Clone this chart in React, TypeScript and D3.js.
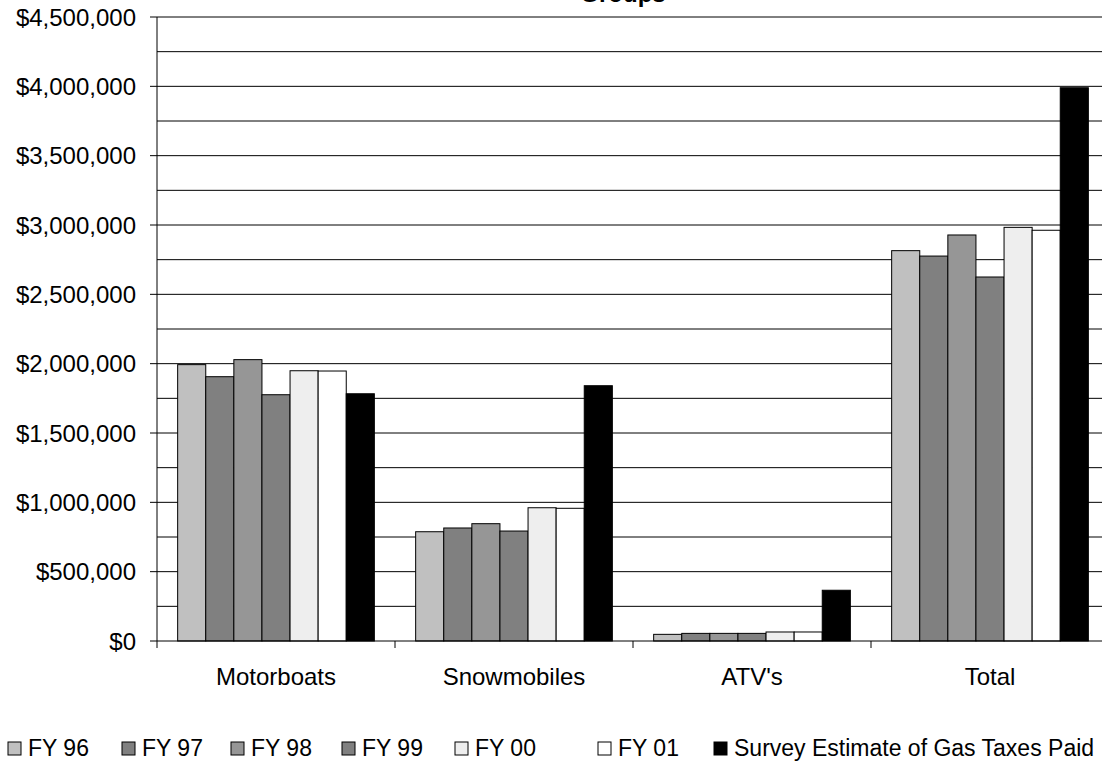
import React from "react";
import * as d3 from "d3";

// Fuel tax revenue by user group, fiscal years 96-01, plus survey estimate
const categories = ["Motorboats", "Snowmobiles", "ATV's", "Total"];
const seriesNames = ["FY 96", "FY 97", "FY 98", "FY 99", "FY 00", "FY 01", "Survey Estimate of Gas Taxes Paid"];

const fy96 = [1993000, 788000, 48000, 2815000];
const fy97 = [1906000, 815000, 55000, 2776000];
const fy98 = [2029000, 846000, 55000, 2928000];
const fy99 = [1776000, 793000, 55000, 2625000];
const fy00 = [1949000, 961000, 65000, 2983000];
const fy01 = [1947000, 957000, 65000, 2962000];
const survey = [1783000, 1841000, 366000, 3990000];

const seriesValues = [fy96, fy97, fy98, fy99, fy00, fy01, survey];
const seriesColors = ["#c0c0c0", "#808080", "#969696", "#808080", "#eeeeee", "#ffffff", "#000000"];

const yMajorTicks = [0, 500000, 1000000, 1500000, 2000000, 2500000, 3000000, 3500000, 4000000, 4500000];
const yGridTicks = d3.range(0, 4500001, 250000);

const legendX = [8, 122, 231, 342, 455, 598, 714];

const W = 1102;
const H = 764;
const left = 157;
const groupW = 238;
const top = 17;
const bottom = 641;
const FONT = "'Liberation Sans', Arial, Helvetica, sans-serif";

export default function App() {
  const x0 = d3.scaleBand<string>().domain(categories).range([left, left + groupW * categories.length]).padding(0);
  const x1 = d3.scaleBand<string>().domain(seriesNames).range([0, x0.bandwidth()]).paddingInner(0).paddingOuter(0.735);
  const y = d3.scaleLinear().domain([0, 4500000]).range([bottom, top]);
  const fmt = (v: number) => "$" + d3.format(",")(v);

  return (
    <svg width={W} height={H} style={{ position: "absolute", left: 0, top: 0, background: "#fff" }} fontFamily={FONT}>
      <text x={623} y={2} textAnchor="middle" fontSize={24} fontWeight="bold" fill="#000">Groups</text>

      {/* gridlines */}
      {yGridTicks.slice(1).map((t) => (
        <line key={"g" + t} x1={left} x2={W} y1={y(t)} y2={y(t)} stroke="#000" strokeWidth={1} />
      ))}

      {/* bars */}
      {seriesNames.map((s, si) =>
        categories.map((c, ci) => {
          const v = seriesValues[si][ci];
          const bx = (x0(c) as number) + (x1(s) as number);
          return (
            <rect
              key={s + c}
              x={bx}
              y={y(v)}
              width={x1.bandwidth()}
              height={y(0) - y(v)}
              fill={seriesColors[si]}
              stroke="#000"
              strokeWidth={1}
            />
          );
        })
      )}

      {/* y axis */}
      <line x1={left} x2={left} y1={top} y2={bottom} stroke="#000" strokeWidth={1} />
      {yMajorTicks.map((t) => (
        <g key={"t" + t}>
          <line x1={left - 7} x2={left} y1={y(t)} y2={y(t)} stroke="#000" strokeWidth={1} />
          <text x={136} y={y(t)} dy="0.36em" textAnchor="end" fontSize={24} fill="#000">{fmt(t)}</text>
        </g>
      ))}

      {/* x axis */}
      <line x1={left} x2={W} y1={bottom} y2={bottom} stroke="#000" strokeWidth={1} />
      {categories.map((c) => (
        <g key={"x" + c}>
          <line x1={x0(c) as number} x2={x0(c) as number} y1={bottom} y2={bottom + 7} stroke="#000" strokeWidth={1} />
          <text x={(x0(c) as number) + x0.bandwidth() / 2} y={685} textAnchor="middle" fontSize={24} fill="#000">{c}</text>
        </g>
      ))}

      {/* legend */}
      {seriesNames.map((s, i) => (
        <g key={"l" + s}>
          <rect x={legendX[i]} y={742} width={13} height={13} fill={seriesColors[i]} stroke="#000" strokeWidth={1} />
          <text x={legendX[i] + 20} y={756} fontSize={23} fill="#000">{s}</text>
        </g>
      ))}
    </svg>
  );
}
